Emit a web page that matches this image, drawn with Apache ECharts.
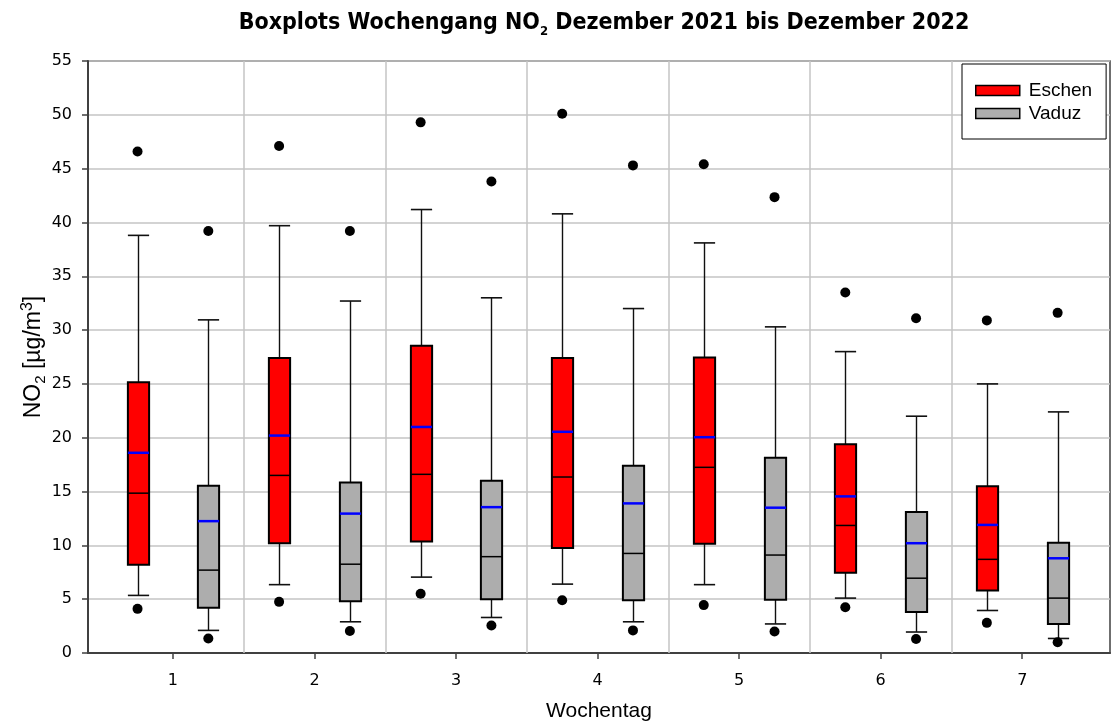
<!DOCTYPE html>
<html>
<head>
<meta charset="utf-8">
<script src="https://cdn.jsdelivr.net/npm/echarts@6/dist/echarts.min.js"></script>
<style>html,body{margin:0;padding:0;background:#fff}#c{width:1111px;height:727px}</style>
</head>
<body>
<div id="c"></div>
<script>
// Weekday categories
const days = [1, 2, 3, 4, 5, 6, 7];
const xTickLabels = ['1', '2', '3', '4', '5', '6', '7'];
const yTicks = [0, 5, 10, 15, 20, 25, 30, 35, 40, 45, 50, 55];

// Eschen statistics per weekday
const eschenMax    = [46.6, 47.1, 49.3, 50.1, 45.4, 33.5, 30.9];
const eschenHigh   = [38.8, 39.7, 41.2, 40.8, 38.1, 28.0, 25.0];
const eschenQ3     = [25.15, 27.4, 28.55, 27.4, 27.45, 19.4, 15.5];
const eschenMean   = [18.6, 20.2, 21.0, 20.55, 20.05, 14.55, 11.9];
const eschenMedian = [14.85, 16.5, 16.6, 16.35, 17.25, 11.85, 8.7];
const eschenQ1     = [8.2, 10.2, 10.35, 9.75, 10.15, 7.45, 5.8];
const eschenLow    = [5.35, 6.35, 7.05, 6.4, 6.35, 5.1, 3.95];
const eschenMin    = [4.1, 4.75, 5.5, 4.9, 4.45, 4.25, 2.8];

// Vaduz statistics per weekday
const vaduzMax    = [39.2, 39.2, 43.8, 45.3, 42.35, 31.1, 31.6];
const vaduzHigh   = [30.95, 32.7, 33.0, 32.0, 30.3, 22.0, 22.4];
const vaduzQ3     = [15.55, 15.85, 16.0, 17.4, 18.15, 13.1, 10.25];
const vaduzMean   = [12.25, 12.95, 13.55, 13.9, 13.5, 10.2, 8.8];
const vaduzMedian = [7.7, 8.25, 8.95, 9.25, 9.1, 6.95, 5.1];
const vaduzQ1     = [4.2, 4.8, 5.0, 4.9, 4.95, 3.8, 2.7];
const vaduzLow    = [2.1, 2.9, 3.3, 2.9, 2.7, 1.95, 1.35];
const vaduzMin    = [1.35, 2.05, 2.55, 2.1, 2.0, 1.3, 1.0];

// vertical separators between weekdays
const dayBounds = [1.5, 2.5, 3.5, 4.5, 5.5, 6.5];

const OFFSET = 0.25;   // layout: box offset from weekday tick
const BOXW = 0.15;     // layout: box width in axis units

function buildBoxData(low, q1, med, q3, high, mean) {
  return days.map((d, i) => [d, low[i], q1[i], med[i], q3[i], high[i], mean[i]]);
}

function makeRender(offset, fill) {
  return function (params, api) {
    const x = api.value(0) + offset;
    const low = api.coord([x, api.value(1)]);
    const q1 = api.coord([x, api.value(2)]);
    const med = api.coord([x, api.value(3)]);
    const q3 = api.coord([x, api.value(4)]);
    const high = api.coord([x, api.value(5)]);
    const mean = api.coord([x, api.value(6)]);
    const hw = api.size([BOXW, 0])[0] / 2;
    const cx = Math.round(q1[0]) + 0.5;
    const ln = (x1, y1, x2, y2, color, w) => ({
      type: 'line', shape: {x1, y1, x2, y2},
      style: {stroke: color, lineWidth: w}
    });
    return {
      type: 'group',
      children: [
        ln(cx, high[1], cx, q3[1], '#101010', 1.4),
        ln(cx, q1[1], cx, low[1], '#101010', 1.4),
        ln(cx - hw, high[1], cx + hw, high[1], '#101010', 1.6),
        ln(cx - hw, low[1], cx + hw, low[1], '#101010', 1.6),
        {
          type: 'rect',
          shape: {x: cx - hw, y: q3[1], width: hw * 2, height: q1[1] - q3[1]},
          style: {fill: fill, stroke: '#000', lineWidth: 2}
        },
        ln(cx - hw, med[1], cx + hw, med[1], '#000', 1.5),
        ln(cx - hw, mean[1], cx + hw, mean[1], '#0000ff', 2.5)
      ]
    };
  };
}

const eschenBoxes = buildBoxData(eschenLow, eschenQ1, eschenMedian, eschenQ3, eschenHigh, eschenMean);
const vaduzBoxes = buildBoxData(vaduzLow, vaduzQ1, vaduzMedian, vaduzQ3, vaduzHigh, vaduzMean);
const eschenDots = days.map((d, i) => [d - OFFSET, eschenMax[i]]).concat(days.map((d, i) => [d - OFFSET, eschenMin[i]]));
const vaduzDots = days.map((d, i) => [d + OFFSET, vaduzMax[i]]).concat(days.map((d, i) => [d + OFFSET, vaduzMin[i]]));

const chart = echarts.init(document.getElementById('c'), null, {renderer: 'canvas'});
const axisFont = 'DejaVu Sans';
chart.setOption({
  backgroundColor: '#fff',
  animation: false,
  title: {
    text: 'Boxplots Wochengang NO{sub|2} Dezember 2021 bis Dezember 2022',
    left: 599, top: 3, textAlign: 'center',
    textStyle: {
      fontFamily: 'DejaVu Sans Condensed, DejaVu Sans', fontWeight: 'bold', fontSize: 23, color: '#000',
      lineHeight: 30,
      rich: {
        sub: {fontFamily: 'DejaVu Sans Condensed, DejaVu Sans', fontWeight: 'bold', fontSize: 13, verticalAlign: 'bottom', lineHeight: 13, color: '#000'}
      }
    }
  },
  legend: {
    orient: 'vertical',
    left: 962, top: 64,
    padding: [17, 14, 16, 13],
    itemGap: 4,
    itemWidth: 44, itemHeight: 10,
    backgroundColor: '#fff',
    borderColor: '#000', borderWidth: 1,
    textStyle: {fontFamily: 'Liberation Sans, Arial', fontSize: 19, color: '#000', padding: [0, 0, 0, 4]},
    data: [
      {name: 'Eschen', icon: 'rect', itemStyle: {color: '#ff0000', borderColor: '#000', borderWidth: 1.5}},
      {name: 'Vaduz', icon: 'rect', itemStyle: {color: '#adadad', borderColor: '#000', borderWidth: 1.5}}
    ]
  },
  grid: {
    left: 88, right: 1, top: 61, bottom: 71,
    show: true, borderColor: '#404040', borderWidth: 1.5, backgroundColor: 'transparent'
  },
  xAxis: {
    type: 'value', min: 0.4, max: 7.62,
    name: 'Wochentag', nameLocation: 'middle', nameGap: 48,
    nameTextStyle: {fontFamily: 'Liberation Sans, Arial', fontSize: 21, color: '#000'},
    axisLine: {show: true, lineStyle: {color: '#404040', width: 2}},
    axisTick: {show: true, length: 6, customValues: days, lineStyle: {color: '#404040', width: 1.5}},
    axisLabel: {
      customValues: days, margin: 20,
      fontFamily: axisFont, fontSize: 16, color: '#000',
      formatter: v => xTickLabels[days.indexOf(v)] || ''
    },
    splitLine: {show: false}
  },
  yAxis: {
    type: 'value', min: 0, max: 55, interval: 5,
    name: 'NO{sub|2} [µg/m{sup|3}]', nameLocation: 'middle', nameGap: 40, nameRotate: 90,
    nameMoveOverlap: false,
    nameTextStyle: {
      fontFamily: 'Liberation Sans, Arial', fontSize: 23, color: '#000', lineHeight: 28,
      rich: {
        sub: {fontSize: 15, fontFamily: 'Liberation Sans, Arial', verticalAlign: 'bottom', lineHeight: 14, color: '#000'},
        sup: {fontSize: 16, fontFamily: 'Liberation Sans, Arial', verticalAlign: 'top', lineHeight: 15, color: '#000'}
      }
    },
    axisLine: {show: true, lineStyle: {color: '#404040', width: 2}},
    axisTick: {show: true, length: 6, lineStyle: {color: '#404040', width: 1.5}},
    axisLabel: {margin: 16, fontFamily: axisFont, fontSize: 16, color: '#000',
      formatter: v => (yTicks.indexOf(v) >= 0 ? String(v) : '')},
    splitLine: {show: true, lineStyle: {color: '#c4c4c4', width: 1.5}}
  },
  series: [
    {
      name: 'grid', type: 'scatter', data: [], z: 1, silent: true,
      markLine: {
        silent: true, symbol: 'none', animation: false,
        label: {show: false},
        lineStyle: {color: '#c4c4c4', width: 1.5, type: 'solid'},
        data: dayBounds.map(v => ({xAxis: v}))
      }
    },
    {
      name: 'Eschen', type: 'custom', z: 3,
      itemStyle: {color: '#ff0000'},
      encode: {x: 0, y: [1, 2, 3, 4, 5]},
      renderItem: makeRender(-OFFSET, '#ff0000'),
      data: eschenBoxes
    },
    {
      name: 'Vaduz', type: 'custom', z: 3,
      itemStyle: {color: '#adadad'},
      encode: {x: 0, y: [1, 2, 3, 4, 5]},
      renderItem: makeRender(OFFSET, '#adadad'),
      data: vaduzBoxes
    },
    {
      name: 'Eschen Extremwerte', type: 'scatter', z: 4, symbolSize: 10,
      itemStyle: {color: '#000', opacity: 1}, data: eschenDots
    },
    {
      name: 'Vaduz Extremwerte', type: 'scatter', z: 4, symbolSize: 10,
      itemStyle: {color: '#000', opacity: 1}, data: vaduzDots
    }
  ]
});
</script>
</body>
</html>
